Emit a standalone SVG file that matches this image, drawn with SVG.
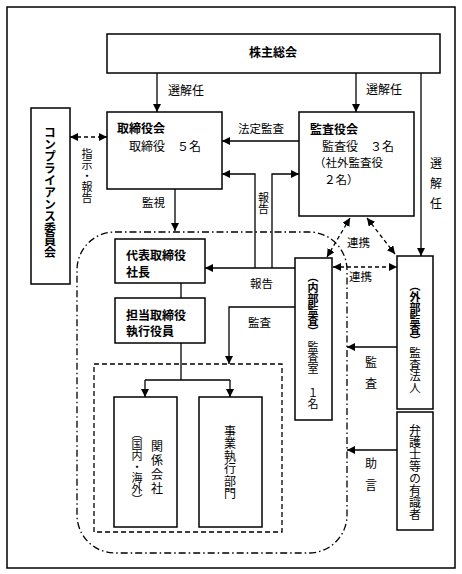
<svg xmlns="http://www.w3.org/2000/svg" width="462" height="574" viewBox="0 0 462 574">
<defs>
<marker id="ah" markerUnits="userSpaceOnUse" markerWidth="9" markerHeight="8" refX="8" refY="4" orient="auto-start-reverse"><path d="M0,0 L8,4 L0,8 z" fill="#000"/></marker>
<style>
.box{fill:#fff;stroke:#000;stroke-width:1.5}
.ln{fill:none;stroke:#000;stroke-width:1.3}
.dl{fill:none;stroke:#000;stroke-width:1.3;stroke-dasharray:4 3}
text{font-family:"Noto Sans CJK JP","Noto Sans CJK SC",sans-serif;font-size:12px;fill:#000;dominant-baseline:central}
.b{font-weight:bold}
.v{writing-mode:vertical-rl}
</style>
</defs>
<rect x="0" y="0" width="462" height="574" fill="#fff"/>
<rect x="7" y="7" width="448" height="561" fill="none" stroke="#000" stroke-width="1.5"/>
<rect x="77" y="232" width="270" height="321" rx="38" ry="38" fill="none" stroke="#000" stroke-width="1.3" stroke-dasharray="7 3 1.5 3"/>
<rect x="94" y="364" width="188" height="168" fill="none" stroke="#000" stroke-width="1.3" stroke-dasharray="5 3"/>

<g id="connectors">
<path class="ln" d="M157,73 V112" marker-end="url(#ah)"/>
<path class="ln" d="M356,73 V112" marker-end="url(#ah)"/>
<path class="ln" d="M421,73 V256" marker-end="url(#ah)"/>
<path class="dl" d="M70,137 H107" marker-start="url(#ah)" marker-end="url(#ah)"/>
<path class="ln" d="M299,141 H222" marker-end="url(#ah)"/>
<path class="ln" d="M255,268 V174 H222" marker-end="url(#ah)"/>
<path class="ln" d="M272,268 V174 H299" marker-end="url(#ah)"/>
<path class="ln" d="M295,268 H205" marker-end="url(#ah)"/>
<path class="ln" d="M175,189 V231" marker-end="url(#ah)"/>
<path class="ln" d="M181,283 V298"/>
<path class="ln" d="M181,343 V380"/>
<path class="ln" d="M145,380 H230"/>
<path class="ln" d="M145,380 V397" marker-end="url(#ah)"/>
<path class="ln" d="M230,380 V397" marker-end="url(#ah)"/>
<path class="ln" d="M295,307 H229 V364" marker-end="url(#ah)"/>
<path class="dl" d="M350,218 L327,257" marker-start="url(#ah)" marker-end="url(#ah)"/>
<path class="dl" d="M367,218 L395,254" marker-start="url(#ah)" marker-end="url(#ah)"/>
<path class="dl" d="M333,267 H397" marker-start="url(#ah)" marker-end="url(#ah)"/>
<path class="ln" d="M397,347 H347" marker-end="url(#ah)"/>
<path class="ln" d="M397,450 H347" marker-end="url(#ah)"/>
<text x="168" y="89">選解任</text>
<text x="366" y="88">選解任</text>
<text class="v" x="436" y="157" style="letter-spacing:8px">選解任</text>
<text class="v" x="87" y="148" style="font-size:11px">指示・報告</text>
<text x="238" y="128" style="font-size:11.5px">法定監査</text>
<text class="v" x="263.5" y="192" style="font-size:11px">報告</text>
<text x="142" y="202" style="font-size:11.5px">監視</text>
<text x="250" y="283" style="font-size:11.5px">報告</text>
<text x="248" y="322" style="font-size:11.5px">監査</text>
<text x="347" y="242" style="font-size:11.5px">連携</text>
<text x="349" y="276" style="font-size:11.5px">連携</text>
<text class="v" x="371" y="356" style="letter-spacing:9px">監査</text>
<text class="v" x="371" y="457" style="letter-spacing:10px">助言</text>
</g>

<g id="kabunushi">
<rect class="box" x="107" y="34" width="333" height="39"/>
<text class="b" x="249" y="51">株主総会</text>
</g>
<g id="torishimariyakukai">
<rect class="box" x="107" y="112" width="115" height="77"/>
<text class="b" x="117" y="127">取締役会</text>
<text x="129" y="145">取締役　５名</text>
</g>
<g id="kansayakukai">
<rect class="box" x="299" y="112" width="115" height="104"/>
<text class="b" x="310" y="128">監査役会</text>
<text x="322" y="145">監査役　３名</text>
<text x="314" y="162" style="font-size:11.5px">（社外監査役</text>
<text x="324" y="179" style="font-size:11.5px">２名）</text>
</g>
<g id="compliance">
<rect class="box" x="31" y="108" width="39" height="176"/>
<text class="v b" x="50" y="126">コンプライアンス委員会</text>
</g>
<g id="daihyo">
<rect class="box" x="115" y="239" width="90" height="44"/>
<text class="b" x="126" y="254">代表取締役</text>
<text class="b" x="126" y="271">社長</text>
</g>
<g id="tanto">
<rect class="box" x="115" y="298" width="90" height="45"/>
<text class="b" x="126" y="314">担当取締役</text>
<text class="b" x="126" y="330">執行役員</text>
</g>
<g id="kankeigaisha">
<rect class="box" x="114" y="397" width="63" height="130"/>
<text class="v" x="157" y="440" style="letter-spacing:2px">関係会社</text>
<text class="v" x="137" y="428" style="font-size:11px">（国内・海外）</text>
</g>
<g id="jigyo">
<rect class="box" x="199" y="397" width="63" height="130"/>
<text class="v" x="230" y="425" style="letter-spacing:0.5px">事業執行部門</text>
</g>
<g id="naibu">
<rect class="box" x="295" y="258" width="37" height="162"/>
<text class="v b" x="313" y="271" style="font-size:11px">（内部監査）</text>
<text class="v" x="313" y="341" style="font-size:11px">監査室</text>
<text class="v" x="313" y="387" style="font-size:11px">１名</text>
</g>
<g id="gaibu">
<rect class="box" x="397" y="256" width="36" height="153"/>
<text class="v b" x="415" y="280" style="font-size:11px">（外部監査）</text>
<text class="v" x="415" y="347" style="font-size:11.5px">監査法人</text>
</g>
<g id="bengoshi">
<rect class="box" x="397" y="412" width="36" height="118"/>
<text class="v" x="415" y="424">弁護士等の有識者</text>
</g>
</svg>
